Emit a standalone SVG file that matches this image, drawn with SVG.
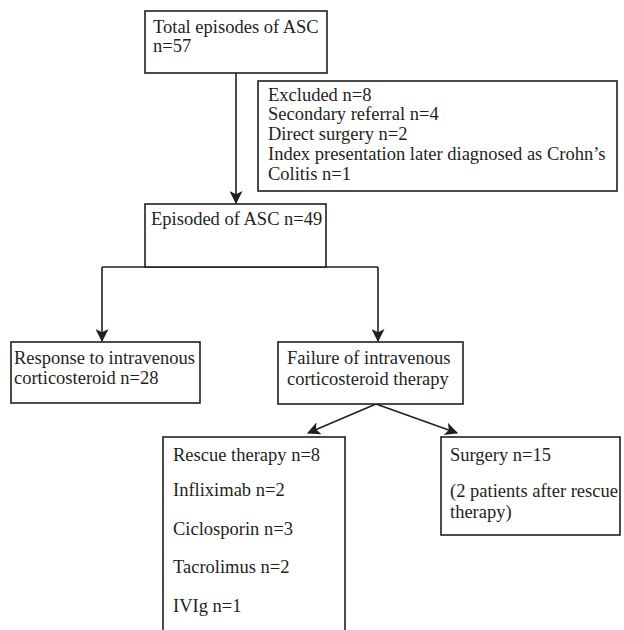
<svg xmlns="http://www.w3.org/2000/svg" width="624" height="630" viewBox="0 0 624 630">
<style>
.box{fill:#fff;stroke:#231f20;stroke-width:1.6}
.t{font-family:"Liberation Serif","Times New Roman",serif;font-size:18.5px;fill:#231f20}
.c{fill:none;stroke:#231f20;stroke-width:1.6}
</style>
<defs>
<marker id="ah" viewBox="0 0 12 12" refX="11" refY="6" markerWidth="13" markerHeight="13" markerUnits="userSpaceOnUse" orient="auto">
<path d="M0,0 L12,6 L0,12 L3,6 Z" fill="#231f20"/>
</marker>
</defs>
<rect width="624" height="630" fill="#fff"/>
<g id="connectors">
<path class="c" d="M236,73 V203" marker-end="url(#ah)"/>
<path class="c" d="M102,267 H378"/>
<path class="c" d="M102,267 V341" marker-end="url(#ah)"/>
<path class="c" d="M378,267 V341" marker-end="url(#ah)"/>
<path class="c" d="M376,404 L308,433" marker-end="url(#ah)"/>
<path class="c" d="M376,404 L457,433" marker-end="url(#ah)"/>
</g>
<g id="total">
<rect class="box" x="145" y="11" width="182" height="62"/>
<text class="t" x="153" y="33">Total episodes of ASC</text>
<text class="t" x="153" y="52">n=57</text>
</g>
<g id="excluded">
<rect class="box" x="258" y="81" width="359" height="110"/>
<text class="t" x="268" y="101">Excluded n=8</text>
<text class="t" x="268" y="120">Secondary referral n=4</text>
<text class="t" x="268" y="140">Direct surgery n=2</text>
<text class="t" x="268" y="160">Index presentation later diagnosed as Crohn’s</text>
<text class="t" x="268" y="180">Colitis n=1</text>
</g>
<g id="episoded">
<rect class="box" x="145" y="204" width="181" height="63"/>
<text class="t" x="151" y="225">Episoded of ASC n=49</text>
</g>
<g id="response">
<rect class="box" x="11" y="342" width="189" height="61"/>
<text class="t" x="14" y="364">Response to intravenous</text>
<text class="t" x="14" y="384">corticosteroid n=28</text>
</g>
<g id="failure">
<rect class="box" x="278" y="342" width="185" height="62"/>
<text class="t" x="287" y="364">Failure of intravenous</text>
<text class="t" x="287" y="385">corticosteroid therapy</text>
</g>
<g id="rescue">
<rect class="box" x="163" y="437" width="182" height="210"/>
<text class="t" x="173" y="461">Rescue therapy n=8</text>
<text class="t" x="173" y="496">Infliximab n=2</text>
<text class="t" x="173" y="535">Ciclosporin n=3</text>
<text class="t" x="173" y="573">Tacrolimus n=2</text>
<text class="t" x="173" y="612">IVIg n=1</text>
</g>
<g id="surgery">
<rect class="box" x="441" y="437" width="179" height="98"/>
<text class="t" x="450" y="461">Surgery n=15</text>
<text class="t" x="450" y="497">(2 patients after rescue</text>
<text class="t" x="450" y="518">therapy)</text>
</g>
</svg>
